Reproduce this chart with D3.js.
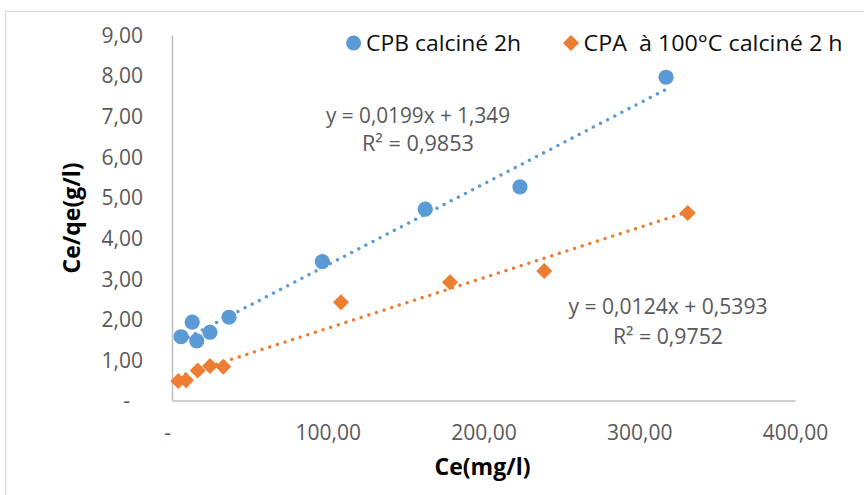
<!DOCTYPE html>
<html>
<head>
<meta charset="utf-8">
<script src="https://cdn.jsdelivr.net/npm/d3@7"></script>
<style>
  html, body { margin: 0; padding: 0; background: #fff; }
  svg { display: block; }
  text { font-family: "Open Sans", "Noto Sans", sans-serif; }
</style>
</head>
<body>
<svg id="chart" width="864" height="495"></svg>
<script>
// ---------- data ----------
const seriesNames = ["CPB calciné 2h", "CPA  à 100°C calciné 2 h"];
const cpbCe   = [5.8, 13.0, 15.9, 24.4, 36.6, 96.5, 162.6, 223.4, 317.2];
const cpbCeQe = [1.57, 1.93, 1.47, 1.68, 2.05, 3.42, 4.71, 5.26, 7.96];
const cpaCe   = [4.0, 9.0, 16.5, 24.4, 32.9, 108.5, 178.5, 239.0, 331.1];
const cpaCeQe = [0.48, 0.50, 0.74, 0.85, 0.83, 2.42, 2.91, 3.19, 4.62];
const trendSlope     = [0.0199, 0.0124];
const trendIntercept = [1.349, 0.5393];
const equationLabels = [["y = 0,0199x + 1,349", "R² = 0,9853"],
                        ["y = 0,0124x + 0,5393", "R² = 0,9752"]];
const xTicks = [0, 100, 200, 300, 400];
const yTicks = [0, 1, 2, 3, 4, 5, 6, 7, 8, 9];
const xTitle = "Ce(mg/l)";
const yTitle = "Ce/qe(g/l)";

// ---------- setup ----------
const colors = ["#5B9BD5", "#ED7D31"];
const svg = d3.select("#chart");
svg.append("rect").attr("width", 864).attr("height", 495).attr("fill", "#fff");
svg.append("rect").attr("x", 5.5).attr("y", 11.5).attr("width", 900).attr("height", 600)
  .attr("fill", "none").attr("stroke", "#d9d9d9").attr("stroke-width", 1.2);

const x = d3.scaleLinear().domain([0, 400]).range([172, 795]);
const y = d3.scaleLinear().domain([0, 9]).range([400.5, 35]);

const loc = d3.formatLocale({decimal: ",", thousands: " ", grouping: [3], currency: ["", ""]});
const f2 = loc.format(",.2f");
const fmt = v => v === 0 ? "-" : f2(v);

// x axis
const gx = svg.append("g").attr("transform", `translate(0,${y(0)})`)
  .call(d3.axisBottom(x).tickValues(xTicks).tickFormat(fmt).tickSize(0).tickSizeOuter(0));
gx.select(".domain").attr("stroke", "#bfbfbf").attr("stroke-width", 1.5);
gx.selectAll("text").attr("y", 32).attr("dy", "0.35em")
  .attr("font-size", 21).attr("fill", "#595959").attr("font-family", null)
  .attr("dx", d => d === 0 ? -5 : 0);

// y axis
const gy = svg.append("g").attr("transform", `translate(${x(0)},0)`)
  .call(d3.axisLeft(y).tickValues(yTicks).tickFormat(fmt).tickSize(0).tickSizeOuter(0));
gy.select(".domain").attr("stroke", "#bfbfbf").attr("stroke-width", 1.5);
gy.selectAll("text").attr("x", -29).attr("dy", "0.35em")
  .attr("font-size", 21).attr("fill", "#595959").attr("font-family", null)
  .attr("dx", d => d === 0 ? -13 : 0);

// trendlines
const seriesX = [cpbCe, cpaCe];
const seriesY = [cpbCeQe, cpaCeQe];
[0, 1].forEach(i => {
  const [x0, x1] = d3.extent(seriesX[i]);
  const pts = [x0, x1].map(v => [v, trendSlope[i] * v + trendIntercept[i]]);
  svg.append("path")
    .attr("d", d3.line().x(d => x(d[0])).y(d => y(d[1]))(pts))
    .attr("fill", "none").attr("stroke", colors[i]).attr("stroke-width", 3.4)
    .attr("stroke-linecap", "round").attr("stroke-dasharray", "0.01 8");
});

// markers
const diamond = "M0,-8L8,0L0,8L-8,0Z";
svg.append("g").selectAll("circle").data(cpbCe.map((v, i) => [v, cpbCeQe[i]]))
  .join("circle").attr("cx", d => x(d[0])).attr("cy", d => y(d[1])).attr("r", 7.6)
  .attr("fill", colors[0]);
svg.append("g").selectAll("path").data(cpaCe.map((v, i) => [v, cpaCeQe[i]]))
  .join("path").attr("d", diamond)
  .attr("transform", d => `translate(${x(d[0])},${y(d[1])})`).attr("fill", colors[1]);

// equations
const eqPos = [[418, 116, 143.5, 184, 112], [668, 307, 336.5, 199, 110]];
[0, 1].forEach(i => {
  const [cx, y1, y2, w1, w2] = eqPos[i];
  [[equationLabels[i][0], y1, w1], [equationLabels[i][1], y2, w2]].forEach(([t, yy, w]) => {
    svg.append("text").attr("x", cx).attr("y", yy).attr("dy", "0.35em")
      .attr("text-anchor", "middle").attr("font-size", 21).attr("fill", "#595959")
      .attr("textLength", w).attr("lengthAdjust", "spacingAndGlyphs").text(t);
  });
});

// legend
const legendX = [353.6, 571];
const legendTextW = [155, 259];
[0, 1].forEach(i => {
  if (i === 0) svg.append("circle").attr("cx", legendX[i]).attr("cy", 43).attr("r", 7.5).attr("fill", colors[i]);
  else svg.append("path").attr("d", diamond).attr("transform", `translate(${legendX[i]},43)`).attr("fill", colors[i]);
  svg.append("text").attr("x", legendX[i] + 12.5).attr("y", 43).attr("dy", "0.35em")
    .attr("font-size", 22).attr("fill", "#0d0d0d").style("white-space", "pre")
    .attr("textLength", legendTextW[i]).attr("lengthAdjust", "spacingAndGlyphs")
    .text(seriesNames[i]);
});

// axis titles
svg.append("text").attr("x", 482.5).attr("y", 467).attr("dy", "0.35em")
  .attr("text-anchor", "middle").attr("font-size", 23).attr("font-weight", "bold")
  .attr("fill", "#000").text(xTitle);
svg.append("text").attr("transform", "translate(72,218) rotate(-90)").attr("dy", "0.35em")
  .attr("text-anchor", "middle").attr("font-size", 23).attr("font-weight", "bold")
  .attr("fill", "#000").text(yTitle);
</script>
</body>
</html>
